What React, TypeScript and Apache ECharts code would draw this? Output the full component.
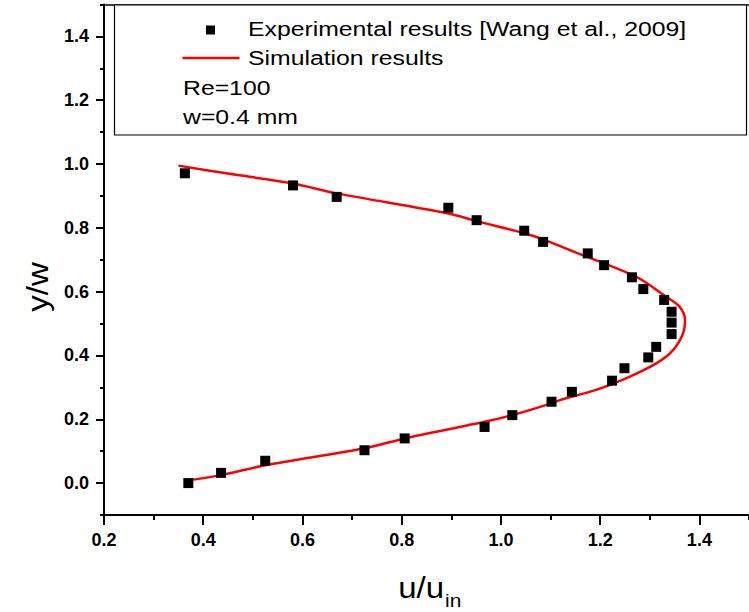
import React, { useEffect, useRef } from "react";
import * as echarts from "echarts";

// Experimental data [Wang et al., 2009]
const expU = [0.37, 0.436, 0.525, 0.725, 0.806, 0.967, 1.023, 1.102, 1.143, 1.224, 1.249, 1.297, 1.313, 1.344, 1.344, 1.344, 1.329, 1.287, 1.264, 1.208, 1.175, 1.085, 1.047, 0.951, 0.894, 0.669, 0.581, 0.363];
const expY = [0.0, 0.032, 0.07, 0.103, 0.14, 0.176, 0.213, 0.255, 0.286, 0.321, 0.36, 0.394, 0.427, 0.467, 0.503, 0.537, 0.574, 0.608, 0.645, 0.683, 0.72, 0.756, 0.791, 0.824, 0.863, 0.897, 0.933, 0.971];

// Simulation curve
const simU = [0.35, 0.45, 0.581, 0.669, 0.894, 0.951, 1.047, 1.085, 1.139, 1.272, 1.333, 1.36, 1.371, 1.367, 1.347, 1.313, 1.252, 1.192, 1.119, 1.092, 1.023, 0.967, 0.806, 0.725, 0.525, 0.436, 0.361];
const simY = [0.995, 0.97, 0.939, 0.908, 0.845, 0.821, 0.783, 0.764, 0.73, 0.647, 0.584, 0.553, 0.511, 0.469, 0.417, 0.375, 0.328, 0.292, 0.26, 0.245, 0.213, 0.192, 0.14, 0.109, 0.056, 0.025, 0.007];

const xMajorTicks = [0.2, 0.4, 0.6, 0.8, 1.0, 1.2, 1.4];
const xMinorTicks = [0.3, 0.5, 0.7, 0.9, 1.1, 1.3, 1.5];
const yMajorTicks = [0.0, 0.2, 0.4, 0.6, 0.8, 1.0, 1.2, 1.4];
const yMinorTicks = [-0.1, 0.1, 0.3, 0.5, 0.7, 0.9, 1.1, 1.3, 1.5];

const legendLabels = ["Experimental results [Wang et al., 2009]", "Simulation results"];
const noteLines = ["Re=100", "w=0.4 mm"];
const xTitle = "u/u";
const xTitleSub = "in";
const yTitle = "y/w";

const FONT = "'Liberation Sans', Arial, sans-serif";
const LEG_FONT = `21px ${FONT}`;
const LEG_SX = 1.18;

export default function App() {
  const ref = useRef<HTMLDivElement>(null);
  useEffect(() => {
    if (!ref.current) return;
    const chart = echarts.init(ref.current, undefined, { renderer: "svg" });
    const expData = expU.map((u, i) => [u, expY[i]]);
    const simData = simU.map((u, i) => [u, simY[i]]);
    const xRange = { min: 0.2, max: 1.5 };
    const yRange = { min: -0.1, max: 1.5 };
    const legText = (text: string, x: number, y: number) => ({
      type: "text",
      x,
      y,
      scaleX: LEG_SX,
      style: { text, font: LEG_FONT, fill: "#000", verticalAlign: "middle", align: "left" },
      z: 11,
    });
    chart.setOption({
      animation: false,
      backgroundColor: "#ffffff",
      grid: { left: 104, top: 4.5, right: -5, bottom: 97 },
      xAxis: [
        {
          type: "value",
          ...xRange,
          position: "bottom",
          splitLine: { show: false },
          axisLine: { show: true, onZero: false, lineStyle: { color: "#000", width: 2 } },
          axisTick: { show: true, customValues: xMajorTicks, length: 10, inside: false, lineStyle: { color: "#000", width: 2 } },
          axisLabel: {
            customValues: xMajorTicks,
            formatter: (v: number) => v.toFixed(1),
            color: "#000",
            fontFamily: FONT,
            fontWeight: "bold",
            fontSize: 18,
            margin: 16,
          },
        },
        {
          type: "value",
          ...xRange,
          position: "bottom",
          splitLine: { show: false },
          axisLine: { show: false, onZero: false },
          axisTick: { show: true, customValues: xMinorTicks, length: 5, lineStyle: { color: "#000", width: 2 } },
          axisLabel: { show: false },
        },
        {
          type: "value",
          ...xRange,
          position: "top",
          splitLine: { show: false },
          axisLine: { show: true, onZero: false, lineStyle: { color: "#000", width: 1.5 } },
          axisTick: { show: false },
          axisLabel: { show: false },
        },
      ],
      yAxis: [
        {
          type: "value",
          ...yRange,
          position: "left",
          splitLine: { show: false },
          axisLine: { show: true, onZero: false, lineStyle: { color: "#000", width: 2 } },
          axisTick: { show: true, customValues: yMajorTicks, length: 8, lineStyle: { color: "#000", width: 2 } },
          axisLabel: {
            customValues: yMajorTicks,
            formatter: (v: number) => v.toFixed(1),
            color: "#000",
            fontFamily: FONT,
            fontWeight: "bold",
            fontSize: 18,
            margin: 15,
          },
        },
        {
          type: "value",
          ...yRange,
          position: "left",
          splitLine: { show: false },
          axisLine: { show: false, onZero: false },
          axisTick: { show: true, customValues: yMinorTicks, length: 4, lineStyle: { color: "#000", width: 2 } },
          axisLabel: { show: false },
        },
      ],
      series: [
        {
          name: legendLabels[1],
          type: "line",
          xAxisIndex: 0,
          yAxisIndex: 0,
          data: simData,
          showSymbol: false,
          smooth: 0.3,
          lineStyle: { color: "#ff0000", width: 2.5 },
          z: 2,
        },
        {
          name: legendLabels[0],
          type: "scatter",
          xAxisIndex: 0,
          yAxisIndex: 0,
          data: expData,
          symbol: "rect",
          symbolSize: 10,
          itemStyle: { color: "#000", opacity: 1 },
          z: 3,
        },
      ],
      graphic: [
        {
          type: "rect",
          shape: { x: 114.5, y: 5, width: 632, height: 130 },
          style: { fill: "#fff", stroke: "#000", lineWidth: 1.2 },
          z: 10,
        },
        {
          type: "rect",
          shape: { x: 206, y: 25.5, width: 9, height: 9 },
          style: { fill: "#000" },
          z: 11,
        },
        {
          type: "line",
          shape: { x1: 182.5, y1: 58, x2: 239.5, y2: 58 },
          style: { stroke: "#ff0000", lineWidth: 2.5 },
          z: 11,
        },
        legText(legendLabels[0], 248, 29),
        legText(legendLabels[1], 248, 58),
        legText(noteLines[0], 183, 88),
        legText(noteLines[1], 183, 117),
        {
          type: "text",
          x: 38,
          y: 287,
          rotation: Math.PI / 2,
          scaleX: 1.1,
          style: { text: yTitle, font: `30px ${FONT}`, fill: "#000", verticalAlign: "middle", align: "center" },
        },
        {
          type: "text",
          x: 444,
          y: 588,
          scaleX: 1.1,
          style: { text: xTitle, font: `30px ${FONT}`, fill: "#000", verticalAlign: "middle", align: "right" },
        },
        {
          type: "text",
          x: 445,
          y: 600,
          scaleX: 1.1,
          style: { text: xTitleSub, font: `19px ${FONT}`, fill: "#000", verticalAlign: "middle", align: "left" },
        },
      ],
    });
    return () => chart.dispose();
  }, []);
  return (
    <div
      ref={ref}
      style={{ position: "fixed", left: 0, top: 0, width: 749, height: 612, background: "#fff" }}
    />
  );
}
